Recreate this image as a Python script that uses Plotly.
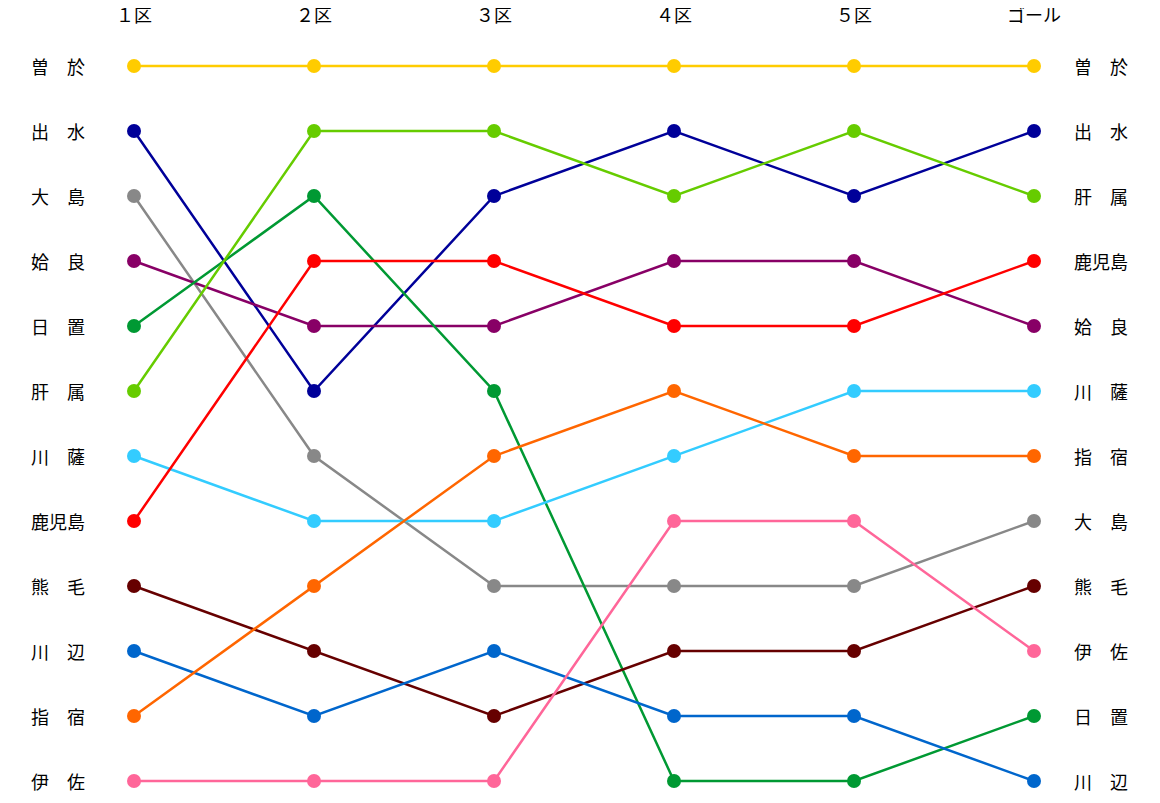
import plotly.graph_objects as go

stages = ["１区", "２区", "３区", "４区", "５区", "ゴール"]
teams = ["曽　於", "出　水", "大　島", "姶　良", "日　置", "肝　属", "川　薩", "鹿児島", "熊　毛", "川　辺", "指　宿", "伊　佐"]
ranks = [
    [1, 1, 1, 1, 1, 1],
    [2, 6, 3, 2, 3, 2],
    [3, 7, 9, 9, 9, 8],
    [4, 5, 5, 4, 4, 5],
    [5, 3, 6, 12, 12, 11],
    [6, 2, 2, 3, 2, 3],
    [7, 8, 8, 7, 6, 6],
    [8, 4, 4, 5, 5, 4],
    [9, 10, 11, 10, 10, 9],
    [10, 11, 10, 11, 11, 12],
    [11, 9, 7, 6, 7, 7],
    [12, 12, 12, 8, 8, 10],
]
colors = ["#FFCC00", "#000099", "#888888", "#880066", "#009933", "#66CC00",
          "#33CCFF", "#FF0000", "#660000", "#0066CC", "#FF6600", "#FF6699"]

font = dict(family="Noto Sans CJK JP", size=18, color="black")
fig = go.Figure()
xs = list(range(len(stages)))
for t, r, c in zip(teams, ranks, colors):
    fig.add_trace(go.Scatter(x=xs, y=r, mode="lines+markers", name=t,
                             line=dict(color=c, width=2.5),
                             marker=dict(color=c, size=14)))

ann = []
for i, s in enumerate(stages):
    ann.append(dict(x=i, y=0.2, text=s, showarrow=False, font=font, xref="x", yref="y"))
for t, r in zip(teams, ranks):
    ann.append(dict(x=-0.42, y=r[0], text=t, showarrow=False, font=font, xref="x", yref="y"))
    ann.append(dict(x=5.37, y=r[-1], text=t, showarrow=False, font=font, xref="x", yref="y"))

fig.update_layout(
    width=1160, height=803, margin=dict(l=0, r=0, t=0, b=0),
    paper_bgcolor="white", plot_bgcolor="white", showlegend=False,
    xaxis=dict(range=[-126/180, (1160-126)/180], visible=False, fixedrange=True),
    yaxis=dict(range=[1 + (803-58)/65, 1 - 58/65], visible=False, fixedrange=True),
    annotations=ann,
)
fig.write_html("out.html")
